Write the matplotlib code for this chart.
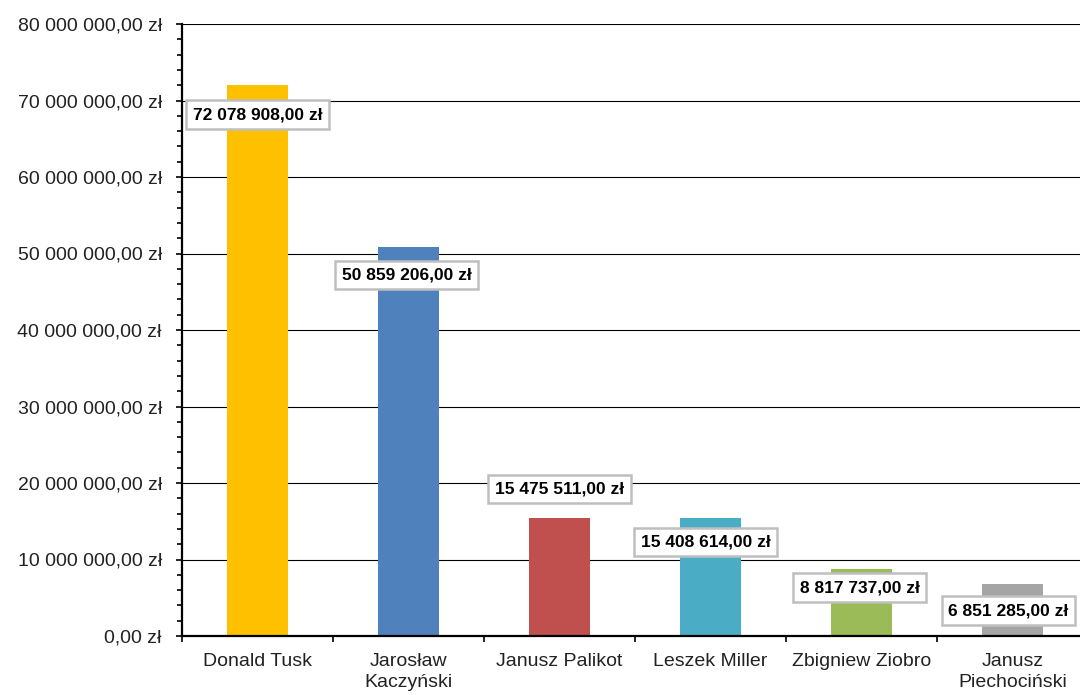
import matplotlib
matplotlib.use('Agg')

import matplotlib.pyplot as plt
from matplotlib.ticker import FuncFormatter, MultipleLocator, FixedLocator

plt.rcParams['font.family'] = ['Liberation Sans', 'DejaVu Sans']

# Kwoty dla poszczególnych polityków
politycy = ['Donald Tusk', 'Jarosław\nKaczyński', 'Janusz Palikot',
            'Leszek Miller', 'Zbigniew Ziobro', 'Janusz\nPiechociński']
kwoty = [72078908.00, 50859206.00, 15475511.00,
         15408614.00, 8817737.00, 6851285.00]
kolory = ['#FFC000', '#4F81BD', '#C0504D', '#4BACC6', '#9BBB59', '#A5A5A5']

# przesunięcia etykiet względem wierzchołka słupka (piksele)
etykiety_dx = [0, -2, 0, -5, -2, -4]
etykiety_dy = [-30, -28, 29, -24, -19, -27]


def zlote(v, pos=None):
    """Formatuje liczbę jako kwotę w złotych (spacja tysięcy, przecinek)."""
    s = f"{v:,.2f}".replace(',', ' ').replace('.', ',')
    return s + ' zł'


fig = plt.figure(figsize=(10.8, 6.95), dpi=100)
ax = fig.add_axes([182 / 1080, 1 - 636 / 695, 906 / 1080, 612 / 695])

x = list(range(len(politycy)))
ax.bar(x, kwoty, width=0.4, color=kolory, zorder=3)

ax.set_xlim(-0.5, len(politycy) - 0.5)
ax.set_ylim(0, 80000000)

# Oś Y
ax.yaxis.set_major_locator(MultipleLocator(10000000))
ax.yaxis.set_minor_locator(MultipleLocator(2000000))
ax.yaxis.set_major_formatter(FuncFormatter(zlote))
ax.tick_params(axis='y', which='major', direction='out', length=4.5, width=1.2,
               pad=10, labelsize=14, labelcolor='#222222')
ax.tick_params(axis='y', which='minor', direction='out', length=3.5, width=1.2)
ax.grid(axis='y', which='major', color='black', linewidth=0.8, zorder=1)

# Oś X: kreski na granicach kategorii, podpisy pośrodku
ax.xaxis.set_major_locator(FixedLocator([i - 0.5 for i in range(len(politycy) + 1)]))
ax.xaxis.set_major_formatter(FuncFormatter(lambda v, p: ''))
ax.xaxis.set_minor_locator(FixedLocator(x))
ax.set_xticklabels(politycy, minor=True)
ax.tick_params(axis='x', which='major', direction='out', length=4.5, width=1.2)
ax.tick_params(axis='x', which='minor', length=0, pad=12, labelsize=14,
               labelcolor='#222222')
for lbl in ax.get_xticklabels(minor=True):
    lbl.set_linespacing(1.3)
    lbl.set_verticalalignment('top')

for s in ['top', 'right']:
    ax.spines[s].set_visible(False)
for s in ['left', 'bottom']:
    ax.spines[s].set_linewidth(1.6)
    ax.spines[s].set_zorder(4)

# Etykiety z wartościami
for i, v in enumerate(kwoty):
    ax.annotate(zlote(v), xy=(i, v), xytext=(etykiety_dx[i], etykiety_dy[i]),
                textcoords='offset pixels', ha='center', va='center',
                fontsize=12.5, fontweight='bold', color='black', zorder=5,
                annotation_clip=False,
                bbox=dict(boxstyle='square,pad=0.38', fc='white',
                          ec='#BFBFBF', lw=1.8))

plt.savefig('out.png', dpi=100)
plt.close(fig)
